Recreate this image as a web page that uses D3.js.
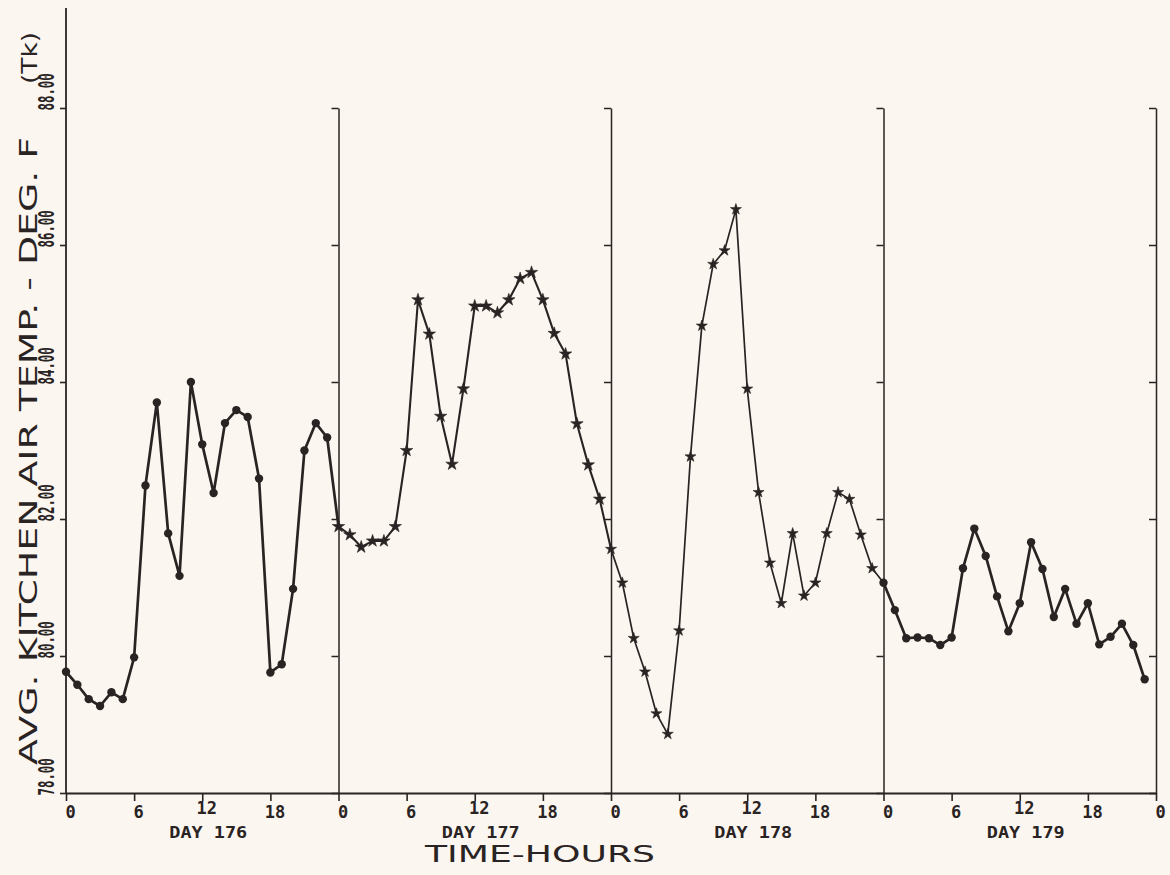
<!DOCTYPE html>
<html>
<head>
<meta charset="utf-8">
<script src="https://cdn.jsdelivr.net/npm/d3@7"></script>
<style>
  html, body { margin: 0; padding: 0; background: #fbf6ef; }
  svg { display: block; }
</style>
</head>
<body>
<svg id="chart" width="1170" height="875"></svg>
<script>
// ---- data (hourly average kitchen air temperature, deg F) ----
const days = ["DAY 176", "DAY 177", "DAY 178", "DAY 179"];
const hourTicks = [0, 6, 12, 18];
const yTickValues = [78, 80, 82, 84, 86, 88];
const yTickLabels = ["78.00", "80.00", "82.00", "84.00", "86.00", "88.00"];
const day176 = [79.77,79.58,79.37,79.27,79.47,79.37,79.98,82.49,83.70,81.79,81.17,84.00,83.09,82.38,83.40,83.59,83.49,82.59,79.76,79.88,80.98,83.00,83.40,83.19];
const day177 = [81.89,81.77,81.59,81.68,81.68,81.89,83.00,85.20,84.70,83.50,82.80,83.90,85.11,85.11,85.01,85.20,85.51,85.60,85.20,84.71,84.41,83.39,82.79,82.29];
const day178 = [81.56,81.07,80.26,79.77,79.16,78.86,80.37,82.91,84.82,85.72,85.92,86.52,83.90,82.39,81.36,80.77,81.79,80.88,81.07,81.79,82.39,82.29,81.77,81.28];
const day179 = [81.07,80.67,80.26,80.27,80.26,80.16,80.27,81.28,81.86,81.46,80.87,80.36,80.77,81.66,81.27,80.57,80.98,80.47,80.77,80.17,80.28,80.47,80.16,79.66];
const yTitle = "AVG. KITCHEN AIR TEMP. - DEG. F";
const yTitleSuffix = "(Tk)";
const xTitle = "TIME-HOURS";

const series = [day176, day177, day178, day179];
const ink = "#2a2323";

const svg = d3.select("#chart");
const x = d3.scaleLinear().domain([0, 96]).range([66, 1156]);
const y = d3.scaleLinear().domain([78, 88]).range([793, 108]);

// styles per day panel
const styles = [
  {w: 2.7, marker: "circle", size: 4.2},
  {w: 2.1, marker: "star", size: 48},
  {w: 1.7, marker: "star", size: 38},
  {w: 2.7, marker: "circle", size: 4.2}
];

// ---- axes ----
svg.append("line")
  .attr("x1", x(0)).attr("x2", x(0))
  .attr("y1", 8).attr("y2", y(78))
  .attr("stroke", ink).attr("stroke-width", 1.8);

const yAxis = d3.axisLeft(y).tickValues(yTickValues).tickSize(6)
  .tickFormat((d, i) => yTickLabels[i]).tickSizeOuter(0);
const ya = svg.append("g").attr("transform", `translate(${x(0)},0)`).call(yAxis);
ya.select(".domain").remove();
ya.selectAll(".tick line").attr("stroke", ink).attr("stroke-width", 1.6);
ya.selectAll(".tick text")
  .attr("x", null).attr("dy", null)
  .attr("text-anchor", "start")
  .attr("transform", "translate(-12,2) rotate(-90) scale(0.59,1)")
  .attr("fill", ink)
  .style("font-family", "'DejaVu Sans Mono', monospace")
  .style("font-weight", "bold").style("font-size", "21px");

// panel dividers with left-pointing ticks
for (let d = 1; d <= 4; d++) {
  const g = svg.append("g").attr("transform", `translate(${x(24 * d)},0)`)
    .call(d3.axisLeft(y).tickValues(yTickValues).tickSize(7).tickSizeOuter(0).tickFormat(""));
  g.select(".domain").attr("stroke", ink).attr("stroke-width", 1.5);
  g.selectAll(".tick line").attr("stroke", ink).attr("stroke-width", 1.5);
}

// bottom axis
const xTickVals = [];
for (let d = 0; d < 4; d++) hourTicks.forEach(h => xTickVals.push(d * 24 + h));
xTickVals.push(96);
const xAxis = d3.axisBottom(x).tickValues(xTickVals).tickSize(8).tickSizeOuter(0)
  .tickFormat(d => String(d % 24));
const xa = svg.append("g").attr("transform", `translate(0,${y(78)})`).call(xAxis);
xa.select(".domain").attr("stroke", ink).attr("stroke-width", 2.2);
xa.selectAll(".tick line").attr("stroke", ink).attr("stroke-width", 1.6);
xa.selectAll(".tick text")
  .attr("fill", ink)
  .attr("y", d => (d % 24 === 12 ? 9 : 13))
  .attr("dy", "0.71em")
  .attr("x", 4)
  .style("font-family", "'DejaVu Sans Mono', monospace")
  .style("font-weight", "bold").style("font-size", "17px");

// day labels
svg.append("g").selectAll("text").data(days).join("text")
  .attr("x", (d, i) => x(i * 24 + 12) + 6)
  .attr("y", 838)
  .attr("text-anchor", "middle")
  .attr("textLength", 78).attr("lengthAdjust", "spacingAndGlyphs")
  .attr("fill", ink)
  .style("font-family", "'DejaVu Sans Mono', monospace")
  .style("font-weight", "bold").style("font-size", "16px")
  .text(d => d);

// x title
svg.append("text")
  .attr("x", 540).attr("y", 862)
  .attr("text-anchor", "middle")
  .attr("textLength", 230).attr("lengthAdjust", "spacingAndGlyphs")
  .attr("fill", ink)
  .style("font-family", "'DejaVu Sans', sans-serif")
  .style("font-weight", "normal").style("font-size", "23px")
  .text(xTitle);

// y title
svg.append("text")
  .attr("transform", "translate(37,765) rotate(-90)")
  .attr("text-anchor", "start")
  .attr("textLength", 628).attr("lengthAdjust", "spacingAndGlyphs")
  .attr("fill", ink)
  .style("font-family", "'DejaVu Sans', sans-serif")
  .style("font-weight", "normal").style("font-size", "25px")
  .text(yTitle);
svg.append("text")
  .attr("transform", "translate(37,84) rotate(-90)")
  .attr("text-anchor", "start")
  .attr("textLength", 52).attr("lengthAdjust", "spacingAndGlyphs")
  .attr("fill", ink)
  .style("font-family", "'DejaVu Sans', sans-serif")
  .style("font-weight", "normal").style("font-size", "22px")
  .text(yTitleSuffix);

// ---- data line and markers ----
const line = d3.line().x(d => x(d.h)).y(d => y(d.v));
series.forEach((vals, di) => {
  const pts = vals.map((v, h) => ({h: di * 24 + h, v}));
  if (di < 3) pts.push({h: (di + 1) * 24, v: series[di + 1][0]});
  svg.append("path").datum(pts)
    .attr("d", line).attr("fill", "none")
    .attr("stroke", ink).attr("stroke-width", styles[di].w)
    .attr("stroke-linejoin", "round");
  const own = pts.slice(0, 24);
  const s = styles[di];
  if (s.marker === "circle") {
    svg.append("g").selectAll("circle").data(own).join("circle")
      .attr("cx", d => x(d.h)).attr("cy", d => y(d.v)).attr("r", s.size)
      .attr("fill", ink);
  } else {
    const sym = d3.symbol().type(d3.symbolStar).size(s.size);
    svg.append("g").selectAll("path").data(own).join("path")
      .attr("transform", d => `translate(${x(d.h)},${y(d.v)})`)
      .attr("d", sym).attr("fill", ink)
      .attr("stroke", ink).attr("stroke-width", 0.6);
  }
});
</script>
</body>
</html>
